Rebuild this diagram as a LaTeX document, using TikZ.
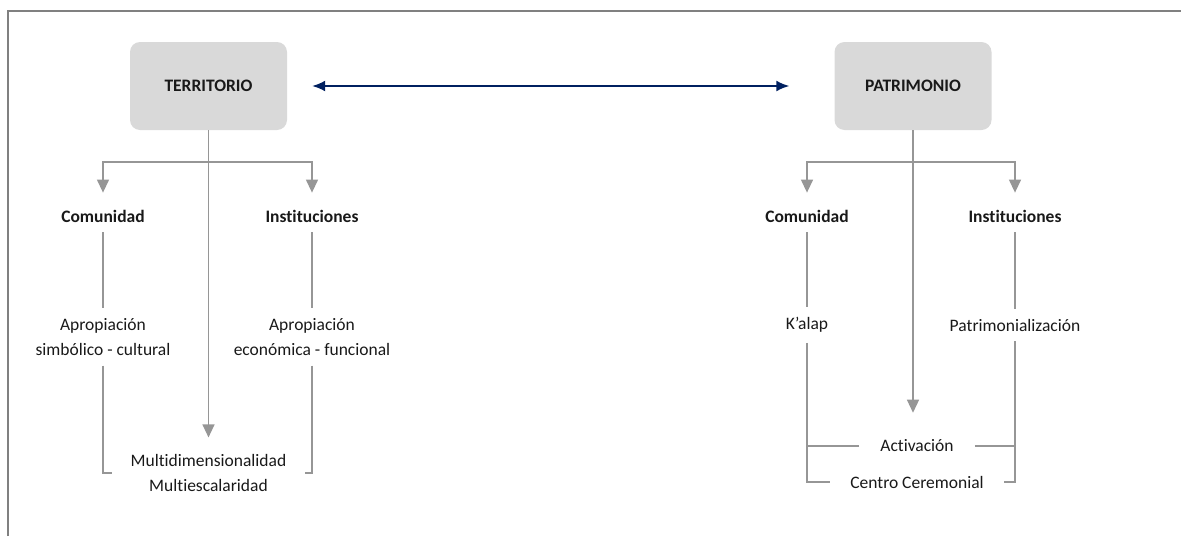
\documentclass[tikz,border=0pt]{standalone}
\usepackage{fontspec}
\setmainfont[Ligatures=NoCommon]{Carlito}
\usetikzlibrary{arrows.meta}
\usetikzlibrary{calc}
\definecolor{framegray}{RGB}{128,128,128}
\definecolor{linegray}{RGB}{150,150,150}
\definecolor{boxgray}{RGB}{217,217,217}
\definecolor{navyarrow}{RGB}{0,32,96}

\begin{document}
\begin{tikzpicture}[x=1pt, y=-1pt, every node/.style={font=\fontsize{17.5}{24.5}\selectfont, text=black!90}]
    \tikzset{
        box/.style={fill=boxgray, rounded corners=10pt, minimum width=157pt, minimum height=88pt},
        lbl/.style={inner sep=10pt, align=center},
        conn/.style={color=linegray, line width=1.3pt},
        arr/.style={conn, -{Triangle[width=12pt,length=13pt]}, shorten >=7pt},
    }
    \useasboundingbox (0,0) rectangle (1181,536);

    % frame
    \draw[color=framegray, line width=2pt] (8,536) -- (8,11) -- (1181,11);

    % main boxes
    \node[box] (terr) at (208.5,86) {\textbf{TERRITORIO}};
    \node[box] (patr) at (913,86) {\textbf{PATRIMONIO}};

    \draw[color=navyarrow, line width=2pt, {Latex[length=13pt,width=11pt]}-{Latex[length=13pt,width=11pt]}, shorten <=25pt, shorten >=45pt] (terr) -- (patr);

    % territorio
    \node[lbl] (tcom) at (103,216) {\textbf{Comunidad}};
    \node[lbl] (tinst) at (312,216) {\textbf{Instituciones}};
    \node[lbl] (tapro) at (103,337) {Apropiación\\simbólico - cultural};
    \node[lbl] (tapre) at (312,337) {Apropiación\\económica - funcional};
    \node[lbl, inner xsep=18pt] (tmulti) at (208.5,473) {Multidimensionalidad\\Multiescalaridad};

    \coordinate (tbr) at (208.5,162);
    \draw[arr] (tbr) -| (tcom);
    \draw[arr] (tbr) -| (tinst);
    \draw[arr] (terr) -- (tmulti);
    \draw[conn] (tcom) -- (tapro);
    \draw[conn] (tinst) -- (tapre);
    \draw[conn] (tapro) |- (tmulti);
    \draw[conn] (tapre) |- (tmulti);

    % patrimonio
    \node[lbl] (pcom) at (807,216) {\textbf{Comunidad}};
    \node[lbl] (pinst) at (1015,216) {\textbf{Instituciones}};
    \node[lbl] (pkalap) at (807,325) {K’alap};
    \node[lbl] (ppatri) at (1015,325) {Patrimonialización};
    \node[lbl, inner xsep=21pt, inner ysep=3pt] (pact) at (917,446) {Activación};
    \node[lbl, inner xsep=20pt, inner ysep=3pt] (pcentro) at (917,482) {Centro Ceremonial};

    \coordinate (pbr) at (913,162);
    \draw[arr] (pbr) -| (pcom);
    \draw[arr] (pbr) -| (pinst);
    \draw[arr, shorten >=24pt] (patr) -- (patr |- pact.north);
    \draw[conn] (pcom) -- (pkalap);
    \draw[conn] (pinst) -- (ppatri);
    \draw[conn] (pkalap) |- (pcentro);
    \draw[conn] (ppatri) |- (pcentro);
    \draw[conn] (pact) -- (pact -| pkalap);
    \draw[conn] (pact) -- (pact -| ppatri);

\end{tikzpicture}
\end{document}
